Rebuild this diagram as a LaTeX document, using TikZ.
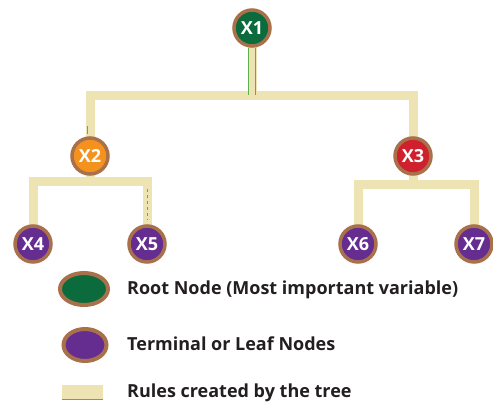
\documentclass[tikz,border=0pt]{standalone}
\usepackage{fontspec}
\setmainfont{Open Sans}
\usetikzlibrary{shapes.geometric,backgrounds}
\definecolor{ring}{HTML}{A9714B}
\definecolor{rootgreen}{HTML}{0C6B3C}
\definecolor{splitorange}{HTML}{F5921E}
\definecolor{splitred}{HTML}{D0202E}
\definecolor{leafpurple}{HTML}{662D91}
\definecolor{rulebeige}{HTML}{EEE3B2}
\definecolor{ruleline}{HTML}{5DB04A}
\definecolor{ink}{HTML}{231F20}
\begin{document}
\begin{tikzpicture}[x=1pt,y=-1pt,
  tnode/.style={circle, draw=ring, line width=3.5pt, minimum size=36pt,
    inner sep=0pt, text=white, font=\bfseries\fontsize{18}{18}\selectfont},
  rootnode/.style={tnode, fill=rootgreen},
  leafnode/.style={tnode, fill=leafpurple},
  bar/.style={draw=rulebeige, line width=9pt, line join=miter},
  greenrule/.style={draw=ruleline, line width=0.7pt},
  legendtext/.style={anchor=west, text=ink, inner sep=0pt,
    font=\bfseries\fontsize{18}{18}\selectfont},
  legendshape/.style={ellipse, draw=ring, line width=4pt, inner sep=0pt}
]
\useasboundingbox (0,0) rectangle (493,407);

% tree nodes
\node[rootnode] (X1) at (252,28) {X1};
\node[tnode, fill=splitorange] (X2) at (90,156) {X2};
\node[tnode, fill=splitred] (X3) at (413,156) {X3};
\node[leafnode] (X4) at (33,244) {X4};
\node[leafnode] (X5) at (147,244) {X5};
\node[leafnode] (X6) at (358,244) {X6};
\node[leafnode] (X7) at (474,244) {X7};

% branch points of the rules
\coordinate (b1) at (252,95);
\coordinate (b2) at (90,181);
\coordinate (b3) at (413,184);

\begin{pgfonlayer}{background}
  \draw[bar] (X1.center) -- (b1);
  \draw[bar] (X2.center) |- (b1) -| (X3.center);
  \draw[bar] (X2.center) -- (b2);
  \draw[bar] (X4.center) |- (b2) -| (X5.center);
  \draw[bar] (X3.center) -- (b3);
  \draw[bar] (X6.center) |- (b3) -| (X7.center);
  % thin green edges of the rules
  \draw[greenrule] ([xshift=-3.8pt]X1.south) -- ([xshift=-3.8pt]b1);
  \draw[greenrule] ([xshift=3.8pt]X1.south) -- ([xshift=3.8pt]b1);
  \draw[greenrule] ([xshift=-3pt,yshift=10pt]X2.north) -- ([xshift=-3pt,yshift=2pt]X2.north);
  \draw[greenrule, dashed] ([yshift=-8pt]X5 |- b2) -- ([yshift=4pt]X5.north);
\end{pgfonlayer}

% legend
\node[legendshape, fill=rootgreen, minimum width=48pt, minimum height=32pt] (kroot) at (84,289) {};
\node[legendtext] (troot) at (127,290) {Root Node (Most important variable)};
\node[legendshape, fill=leafpurple, minimum width=43pt, minimum height=32pt] (kleaf) at (85,345) {};
\node[legendtext] (tleaf) at (127,344) {Terminal or Leaf Nodes};
\node[fill=rulebeige, minimum width=41pt, minimum height=15pt, inner sep=0pt] (krule) at (82.5,392) {};
\draw[greenrule, line width=1pt] (krule.south west) -- (krule.south east);
\node[legendtext] (trule) at (127,393) {Rules created by the tree};
\end{tikzpicture}
\end{document}
